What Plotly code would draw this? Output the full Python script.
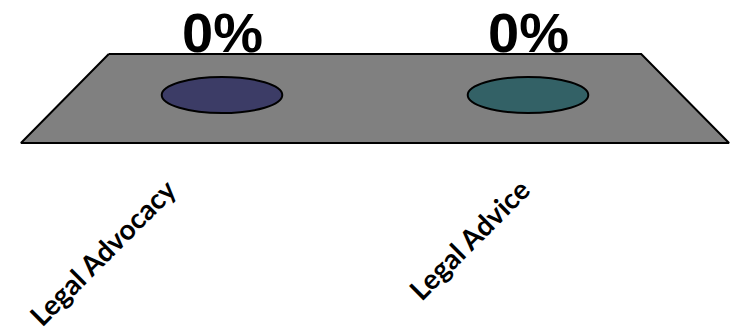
import plotly.graph_objects as go

# ---- data ----
categories = ["Legal Advocacy", "Legal Advice"]
values = [0, 0]
colors = ["#3c3c66", "#336166"]

# ---- style / geometry (3D floor look) ----
floor_back_y = 0.41
floor_front_y = -0.48
back_factor = 0.87
front_factor = 1.157
ell_w = 0.197
ell_h = 0.18

n = len(categories)
center = (n - 1) / 2


def persp(x, f):
    return center + (x - center) * f


fig = go.Figure()

edges = [-0.5, n - 0.5]
fx = [persp(edges[0], back_factor), persp(edges[1], back_factor),
      persp(edges[1], front_factor), persp(edges[0], front_factor),
      persp(edges[0], back_factor)]
fy = [floor_back_y, floor_back_y, floor_front_y, floor_front_y, floor_back_y]
fig.add_trace(go.Scatter(x=fx, y=fy, mode="lines", fill="toself",
                         fillcolor="#808080", line=dict(color="black", width=2),
                         hoverinfo="skip", showlegend=False))

shapes = []
annotations = []
for i, (cat, v) in enumerate(zip(categories, values)):
    shapes.append(dict(type="circle", xref="x", yref="y",
                       x0=i - ell_w, x1=i + ell_w, y0=v - ell_h, y1=v + ell_h,
                       fillcolor=colors[i], line=dict(color="black", width=2)))
    annotations.append(dict(x=i, y=v, xref="x", yref="y", text=f"{v:.0%}",
                            showarrow=False, yanchor="bottom", yshift=29,
                            font=dict(family="Liberation Sans", size=56,
                                      color="black", weight="bold")))
    annotations.append(dict(x=persp(i, front_factor), y=-0.86, xref="x", yref="y",
                            text=cat, showarrow=False, textangle=-45,
                            xanchor="right", yanchor="top", xshift=-13,
                            yshift=12,
                            font=dict(family="Lato", size=28, color="black",
                                      weight="bold")))

xmin = -222 / 306
xmax = xmin + 733 / 306
fig.update_layout(
    width=733, height=334, autosize=False,
    margin=dict(l=0, r=0, t=0, b=0),
    paper_bgcolor="white", plot_bgcolor="white",
    xaxis=dict(range=[xmin, xmax], visible=False, fixedrange=True),
    yaxis=dict(range=[-2.39, 0.95], visible=False, fixedrange=True),
    shapes=shapes, annotations=annotations, showlegend=False,
)

fig.write_html("out.html")
